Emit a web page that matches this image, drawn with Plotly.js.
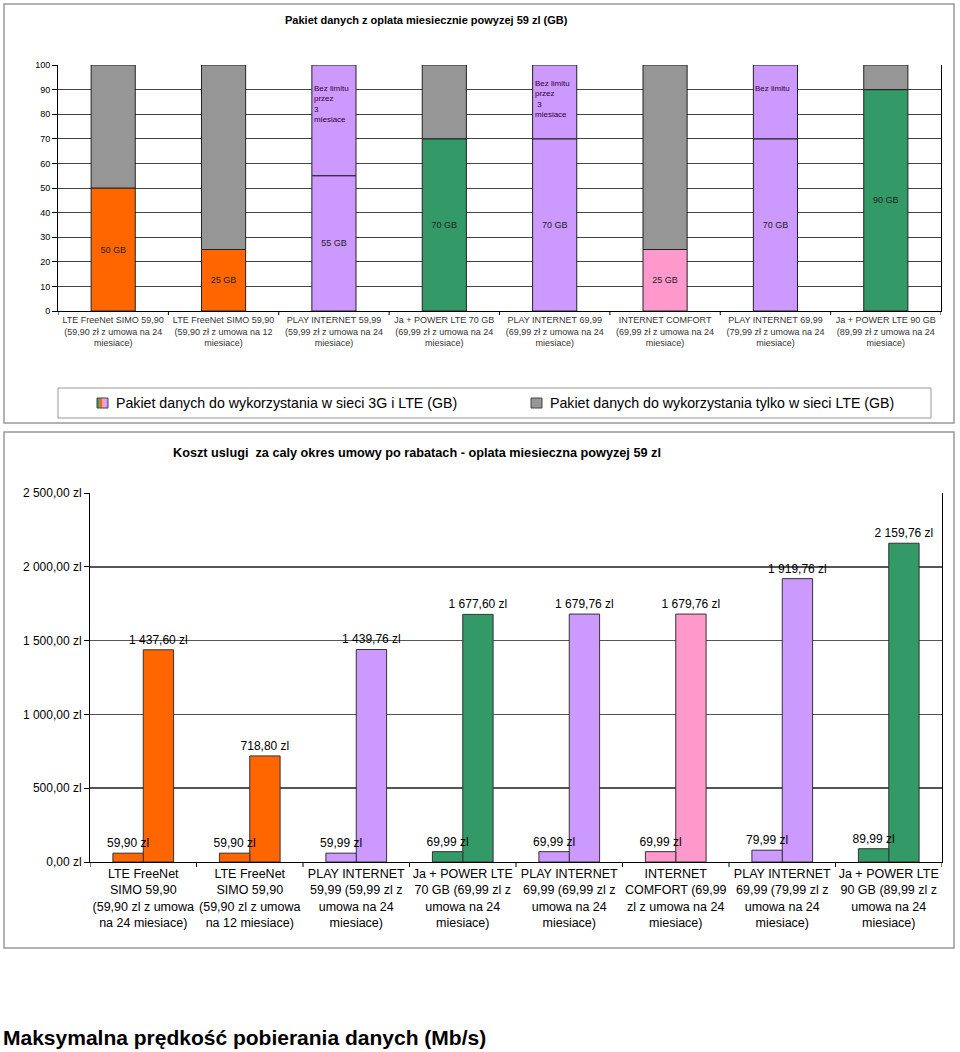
<!DOCTYPE html>
<html>
<head>
<meta charset="utf-8">
<script src="https://cdn.plot.ly/plotly-3.0.1.min.js"></script>
<style>html,body{margin:0;padding:0;background:#fff;}#chart{width:960px;height:1052px;}</style>
</head>
<body>
<div id="chart"></div>
<script>
// ---------- data ----------
const topCategories = [
  "LTE FreeNet SIMO 59,90<br>(59,90 zł z umowa na 24<br>miesiace)",
  "LTE FreeNet SIMO 59,90<br>(59,90 zł z umowa na 12<br>miesiace)",
  "PLAY INTERNET 59,99<br>(59,99 zł z umowa na 24<br>miesiace)",
  "Ja + POWER LTE 70 GB<br>(69,99 zł z umowa na 24<br>miesiace)",
  "PLAY INTERNET 69,99<br>(69,99 zł z umowa na 24<br>miesiace)",
  "INTERNET COMFORT<br>(69,99 zł z umowa na 24<br>miesiace)",
  "PLAY INTERNET 69,99<br>(79,99 zł z umowa na 24<br>miesiace)",
  "Ja + POWER LTE 90 GB<br>(89,99 zł z umowa na 24<br>miesiace)"
];
const bottomCategories = [
  "LTE FreeNet<br>SIMO 59,90<br>(59,90 zl z umowa<br>na 24 miesiace)",
  "LTE FreeNet<br>SIMO 59,90<br>(59,90 zl z umowa<br>na 12 miesiace)",
  "PLAY INTERNET<br>59,99 (59,99 zl z<br>umowa na 24<br>miesiace)",
  "Ja + POWER LTE<br>70 GB (69,99 zl z<br>umowa na 24<br>miesiace)",
  "PLAY INTERNET<br>69,99 (69,99 zl z<br>umowa na 24<br>miesiace)",
  "INTERNET<br>COMFORT (69,99<br>zl z umowa na 24<br>miesiace)",
  "PLAY INTERNET<br>69,99 (79,99 zl z<br>umowa na 24<br>miesiace)",
  "Ja + POWER LTE<br>90 GB (89,99 zl z<br>umowa na 24<br>miesiace)"
];
const data3gLte = [50, 25, 55, 70, 70, 25, 70, 90];        // GB, 3G + LTE
const dataLteOnly = [50, 75, 45, 30, 30, 75, 30, 10];      // GB, LTE only / unlimited part
const unlimitedNote = ["", "", "Bez limitu<br>przez<br>3<br>miesiace", "", "Bez limitu<br>przez<br> 3<br>miesiace", "", "Bez limitu", ""];
const monthlyFee = [59.90, 59.90, 59.99, 69.99, 69.99, 69.99, 79.99, 89.99];
const totalCost = [1437.60, 718.80, 1439.76, 1677.60, 1679.76, 1679.76, 1919.76, 2159.76];
const costTicks = [0, 500, 1000, 1500, 2000, 2500];
const gbTicks = [0, 10, 20, 30, 40, 50, 60, 70, 80, 90, 100];

// ---------- styles ----------
const ORANGE = "#FF6600", PURPLE = "#CC99FF", GREEN = "#339966", PINK = "#FF99CC", GRAY = "#969696";
const baseColors = [ORANGE, ORANGE, PURPLE, GREEN, PURPLE, PINK, PURPLE, GREEN];
const upperColors = [GRAY, GRAY, PURPLE, GRAY, PURPLE, GRAY, PURPLE, GRAY];
const FONT = "Arial, 'Liberation Sans', sans-serif";

function plz(v) {
  const s = v.toFixed(2).split(".");
  return s[0].replace(/\B(?=(\d{3})+(?!\d))/g, " ") + "," + s[1] + " zl";
}
const W = 960, H = 1052;
const px = x => x / W;
const py = y => 1 - y / H;

const idx = topCategories.map((_, i) => i);
const topW = 0.4, bw = 0.285;

const traces = [
  {
    type: "bar", x: idx, y: data3gLte, xaxis: "x", yaxis: "y", width: topW,
    marker: {color: baseColors, line: {color: "#222", width: 1}},
    text: data3gLte.map(v => v + " GB"), textposition: "inside", insidetextanchor: "middle",
    constraintext: "none", textangle: 0,
    textfont: {family: FONT, size: 9, color: "#222"}, hoverinfo: "skip", showlegend: false
  },
  {
    type: "bar", x: idx, y: dataLteOnly, base: data3gLte, xaxis: "x", yaxis: "y", width: topW,
    marker: {color: upperColors, line: {color: "#222", width: 1}},
    hoverinfo: "skip", showlegend: false
  },
  {
    type: "bar", x: idx, y: totalCost, xaxis: "x2", yaxis: "y2", width: bw, offset: 0,
    marker: {color: baseColors, line: {color: "#333", width: 1}},
    text: totalCost.map(plz), textposition: "outside", cliponaxis: false, constraintext: "none",
    textfont: {family: FONT, size: 12, color: "#000"}, hoverinfo: "skip", showlegend: false
  },
  {
    type: "bar", x: idx, y: monthlyFee, xaxis: "x2", yaxis: "y2", width: bw, offset: -bw,
    marker: {color: baseColors, line: {color: "#333", width: 1}},
    text: monthlyFee.map(plz), textposition: "outside", cliponaxis: false, constraintext: "none",
    textfont: {family: FONT, size: 12, color: "#000"}, hoverinfo: "skip", showlegend: false
  }
];

const annotations = [
  {xref: "paper", yref: "paper", x: px(426), y: py(20), xanchor: "center", yanchor: "middle",
   text: "<b>Pakiet danych z oplata miesiecznie powyzej 59 zl (GB)</b>", showarrow: false,
   font: {family: FONT, size: 11, color: "#000"}},
  {xref: "paper", yref: "paper", x: px(417), y: py(453), xanchor: "center", yanchor: "middle",
   text: "<b>Koszt uslugi  za caly okres umowy po rabatach - oplata miesieczna powyzej 59 zl</b>", showarrow: false,
   font: {family: FONT, size: 12.7, color: "#000"}},
  {xref: "paper", yref: "paper", x: px(1), y: py(1037), xanchor: "left", yanchor: "middle",
   text: "<b>Maksymalna prędkość pobierania danych (Mb/s)</b>", showarrow: false,
   font: {family: FONT, size: 21, color: "#000"}},
  {xref: "paper", yref: "paper", x: px(114), y: py(403), xanchor: "left", yanchor: "middle",
   text: "Pakiet danych do wykorzystania w sieci 3G i LTE (GB)", showarrow: false,
   font: {family: FONT, size: 14.2, color: "#000"}},
  {xref: "paper", yref: "paper", x: px(548), y: py(403), xanchor: "left", yanchor: "middle",
   text: "Pakiet danych do wykorzystania tylko w sieci LTE (GB)", showarrow: false,
   font: {family: FONT, size: 14.2, color: "#000"}}
];
const noteTop = [0, 0, 93, 0, 95, 0, 93, 0];
unlimitedNote.forEach((t, i) => {
  if (!t) return;
  annotations.push({xref: "x", yref: "y", x: i - topW / 2, y: noteTop[i], xanchor: "left", yanchor: "top",
    align: "left", text: t, showarrow: false, font: {family: FONT, size: 8, color: "#330033"}});
});

const shapes = [
  {type: "rect", xref: "paper", yref: "paper", x0: px(4), x1: px(954), y0: py(4), y1: py(423),
   line: {color: "#999", width: 1.5}},
  {type: "rect", xref: "paper", yref: "paper", x0: px(4), x1: px(954), y0: py(432), y1: py(948),
   line: {color: "#999", width: 1.5}},
  {type: "rect", xref: "paper", yref: "paper", x0: px(58), x1: px(931), y0: py(388), y1: py(418),
   line: {color: "#999", width: 1}},
  {type: "rect", xref: "paper", yref: "paper", x0: px(531), x1: px(542), y0: py(398), y1: py(408),
   fillcolor: GRAY, line: {color: "#444", width: 1}}
];
[GREEN, ORANGE, PINK, PURPLE].forEach((c, k) => {
  shapes.push({type: "rect", xref: "paper", yref: "paper", x0: px(97 + k * 2.75), x1: px(97 + (k + 1) * 2.75),
    y0: py(398), y1: py(408), fillcolor: c, line: {width: 0}});
});
shapes.push({type: "rect", xref: "paper", yref: "paper", x0: px(97), x1: px(108), y0: py(398), y1: py(408),
  line: {color: "#444", width: 1}});

// category boundary tick marks
for (let b = 0; b <= 8; b++) {
  shapes.push({type: "line", xref: "x", yref: "paper", x0: b - 0.5, x1: b - 0.5, y0: py(311), y1: py(315),
    line: {color: "#000", width: 1}});
  shapes.push({type: "line", xref: "x2", yref: "paper", x0: b - 0.5, x1: b - 0.5, y0: py(862), y1: py(867),
    line: {color: "#000", width: 1}});
}

const layout = {
  width: W, height: H, margin: {l: 0, r: 0, t: 0, b: 0},
  paper_bgcolor: "#fff", plot_bgcolor: "#fff",
  font: {family: FONT, color: "#000"},
  barmode: "overlay", showlegend: false,
  xaxis: {
    domain: [px(58), px(941)], anchor: "y", type: "linear", range: [-0.5, 7.5],
    tickvals: idx, ticktext: topCategories, tickangle: 0,
    showgrid: false, zeroline: false, showline: true, linecolor: "#000", linewidth: 1,
    ticks: "", tickfont: {family: FONT, size: 9, color: "#333"}, fixedrange: true
  },
  yaxis: {
    domain: [py(311), py(65)], anchor: "x", range: [0, 100],
    tickvals: gbTicks, ticktext: gbTicks.map(String),
    showgrid: true, gridcolor: "#444", gridwidth: 1, zeroline: false,
    showline: true, linecolor: "#000", linewidth: 1, mirror: true,
    ticks: "outside", ticklen: 5, tickcolor: "#000",
    tickfont: {family: FONT, size: 9, color: "#000"}, fixedrange: true
  },
  xaxis2: {
    domain: [px(90), px(942)], anchor: "y2", type: "linear", range: [-0.5, 7.5],
    tickvals: idx, ticktext: bottomCategories, tickangle: 0,
    showgrid: false, zeroline: false, showline: true, linecolor: "#000", linewidth: 1,
    ticks: "", tickfont: {family: FONT, size: 12.5, color: "#000"}, fixedrange: true
  },
  yaxis2: {
    domain: [py(862), py(493)], anchor: "x2", range: [0, 2500],
    tickvals: costTicks, ticktext: costTicks.map(plz),
    showgrid: true, gridcolor: "#555", gridwidth: 1.5, zeroline: false,
    showline: true, linecolor: "#000", linewidth: 1, mirror: true,
    ticks: "outside", ticklen: 5, tickcolor: "#000",
    tickfont: {family: FONT, size: 12, color: "#000"}, fixedrange: true
  },
  annotations: annotations,
  shapes: shapes
};

Plotly.newPlot("chart", traces, layout, {displayModeBar: false, staticPlot: true});
</script>
</body>
</html>
